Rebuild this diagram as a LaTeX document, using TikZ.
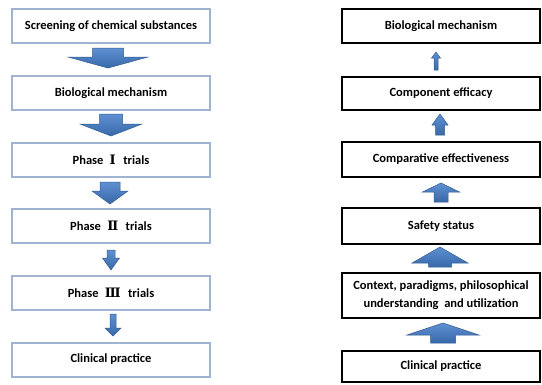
\documentclass[tikz,border=0pt]{standalone}
\usepackage{fontspec}
\setmainfont{Carlito}
\newfontfamily\romfont{DejaVu Serif}
\usetikzlibrary{calc}
\definecolor{lbord}{RGB}{160,180,210}
\definecolor{arrtop}{RGB}{95,145,210}
\definecolor{arrbot}{RGB}{55,105,170}
\definecolor{arredge}{RGB}{50,90,145}
\tikzset{
  lbox/.style={draw=lbord, line width=2pt, fill=white, minimum width=198pt, outer sep=0pt, inner sep=1pt, font=\fontsize{12.5}{18}\selectfont\bfseries, align=center},
  rbox/.style={draw=black, line width=2.4pt, fill=white, minimum width=198pt, outer sep=0pt, inner sep=1pt, font=\fontsize{12.5}{18}\selectfont\bfseries, align=center},
  barr/.style={top color=arrtop, bottom color=arrbot, draw=arredge, line width=0.5pt, line join=miter}
}
% #1 from node, #2 to node, #3 xoff, #4 shaft half, #5 head half, #6 head len, #7 gap1, #8 gap2
\newcommand\darr[8]{%
  \path[barr] let \p1=(#1.south), \p2=(#2.north),
    \n1={\x1+#3pt}, \n2={\y1-#7pt}, \n3={\y2+#8pt}, \n4={\y2+#8pt+#6pt} in
    (\n1-#4pt,\n2) -- (\n1+#4pt,\n2) -- (\n1+#4pt,\n4) -- (\n1+#5pt,\n4) -- (\n1,\n3)
    -- (\n1-#5pt,\n4) -- (\n1-#4pt,\n4) -- cycle;}
\newcommand\uarr[8]{%
  \path[barr] let \p1=(#1.north), \p2=(#2.south),
    \n1={\x1+#3pt}, \n2={\y1+#7pt}, \n3={\y2-#8pt}, \n4={\y2-#8pt-#6pt} in
    (\n1-#4pt,\n2) -- (\n1+#4pt,\n2) -- (\n1+#4pt,\n4) -- (\n1+#5pt,\n4) -- (\n1,\n3)
    -- (\n1-#5pt,\n4) -- (\n1-#4pt,\n4) -- cycle;}
\newcommand\rom[1]{\hspace{0.5em}{\romfont\bfseries\fontsize{13}{14}\selectfont #1}\hspace{0.6em}}
\begin{document}
\begin{tikzpicture}[x=1pt,y=-1pt]
\useasboundingbox[fill=white] (0,0) rectangle (542,384);
% left column
\node[lbox, minimum height=34pt] (L1) at (111,26) {Screening of chemical substances};
\node[lbox, minimum height=34pt] (L2) at (111,93) {Biological mechanism};
\node[lbox, minimum height=34pt] (L3) at (111,159.5) {Phase\rom{Ⅰ}trials};
\node[lbox, minimum height=34pt] (L4) at (111,225.5) {Phase\rom{Ⅱ}trials};
\node[lbox, minimum height=34pt] (L5) at (111,292.5) {Phase\rom{Ⅲ}trials};
\node[lbox, minimum height=34pt] (L6) at (111,359.5) {Clinical practice};
\darr{L1}{L2}{-3}{15.5}{40}{11}{5}{8}
\darr{L2}{L3}{0}{11.5}{31}{12}{4}{6.5}
\darr{L3}{L4}{-1}{10}{18}{13}{5.5}{4.5}
\darr{L4}{L5}{0}{4}{8.5}{12}{7.5}{5.5}
\darr{L5}{L6}{2}{3}{8}{8}{4.5}{6.5}
% right column
\node[rbox, minimum height=34pt] (R1) at (441,26) {Biological mechanism};
\node[rbox, minimum height=33pt] (R2) at (441,93.5) {Component efficacy};
\node[rbox, minimum height=35pt] (R3) at (441,159.5) {Comparative effectiveness};
\node[rbox, minimum height=36pt] (R4) at (441,226) {Safety status};
\node[rbox, minimum height=45pt] (R5) at (441,295.5) {Context, paradigms, philosophical\\understanding \ and utilization};
\node[rbox, minimum height=31pt] (R6) at (441,366.5) {Clinical practice};
\uarr{R2}{R1}{-5}{2}{4.5}{6}{7}{9}
\uarr{R3}{R2}{-1}{4.5}{8}{11}{7}{4}
\uarr{R4}{R3}{0}{7}{18.5}{9}{6}{6}
\uarr{R5}{R4}{-1}{11.5}{28}{16}{6}{3}
\uarr{R6}{R5}{2}{12.5}{36}{12}{8}{5}
\end{tikzpicture}
\end{document}
